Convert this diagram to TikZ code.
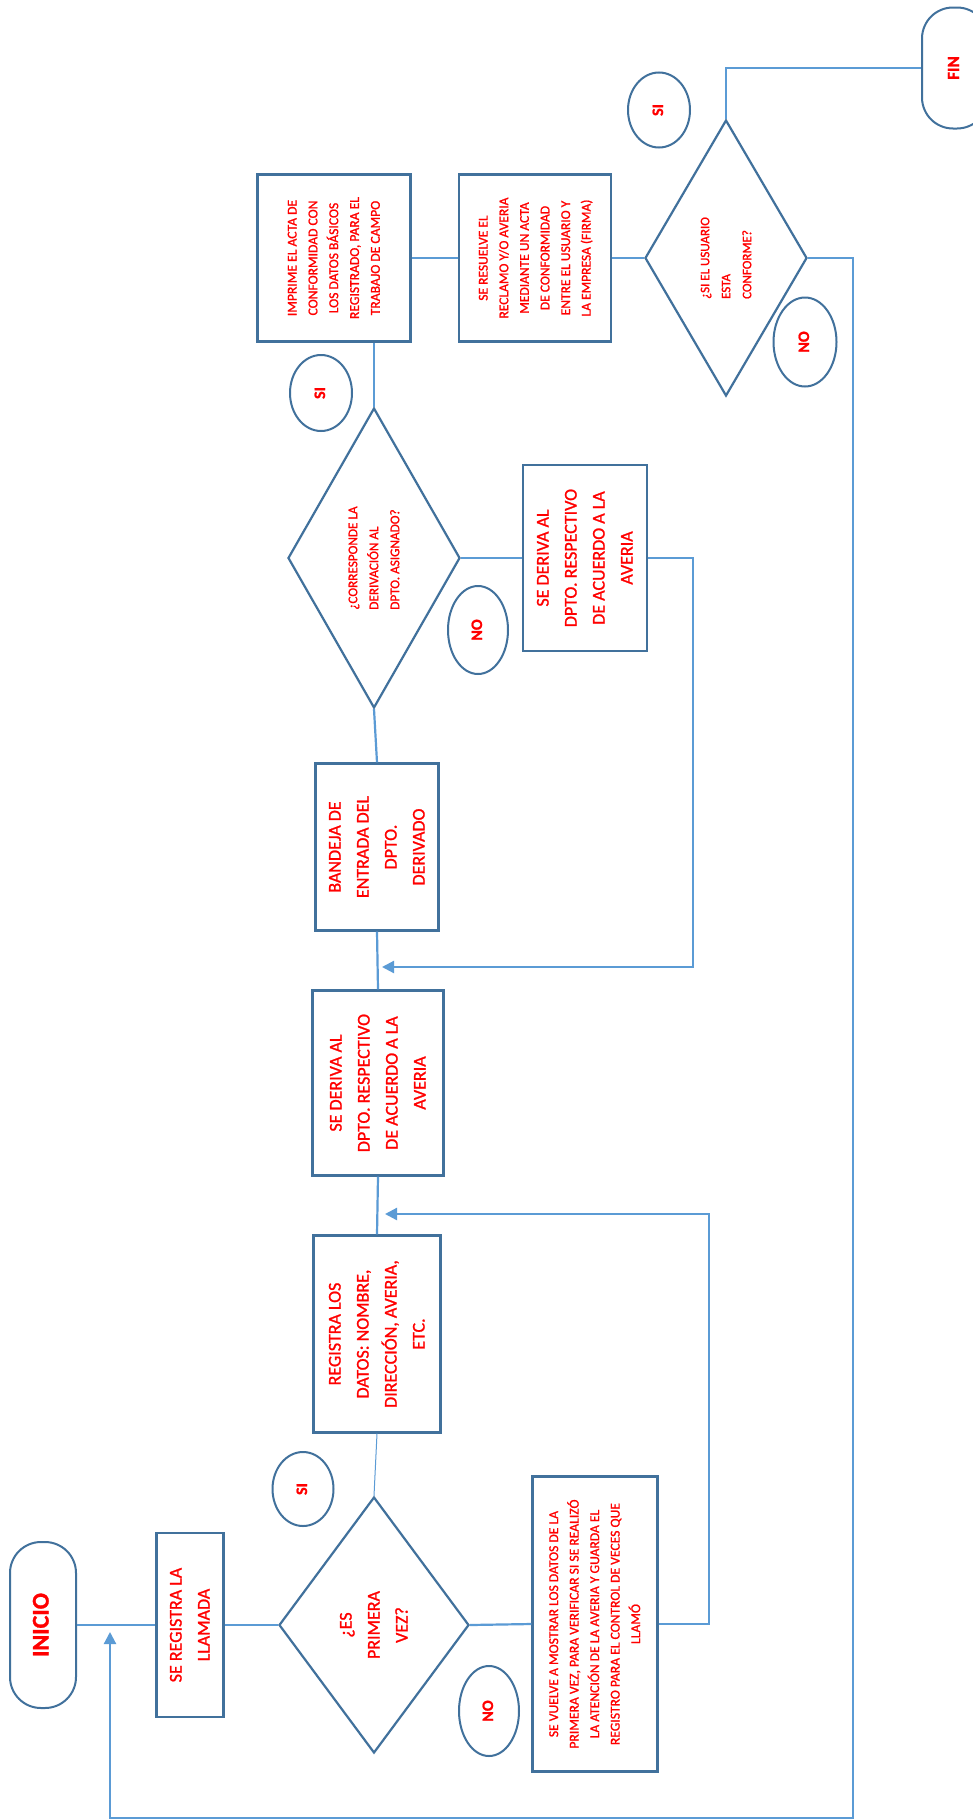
\documentclass[tikz,border=0pt]{standalone}
\usepackage{fontspec}
\setmainfont{Carlito}[RawFeature={embolden=1.2}]
\usepackage{graphicx}
\usetikzlibrary{shapes.geometric,arrows.meta}
\definecolor{boxc}{HTML}{41719C}
\definecolor{linec}{HTML}{5B9BD5}
\newcommand{\vt}[3]{\rotatebox{90}{\fontsize{#1}{#2}\selectfont\begin{tabular}{@{}c@{}}#3\end{tabular}}}
\newcommand{\vtl}[3]{\rotatebox{90}{\fontsize{#1}{#2}\selectfont\begin{tabular}{@{}l@{}}#3\end{tabular}}}
\begin{document}
\begin{tikzpicture}[x=1pt,y=-1pt,
  box/.style={draw=boxc, line width=2.2pt, fill=white, inner sep=1pt, text=red},
  dia/.style={diamond, aspect=0.6, draw=boxc, line width=2.2pt, inner sep=0pt, text=red},
  lab/.style={ellipse, draw=boxc, line width=2pt, inner sep=0pt, text=red},
  term/.style={draw=boxc, line width=2pt, rounded corners=31pt, inner sep=0pt, text=red},
  conn/.style={draw=linec, line width=2.2pt},
  arr/.style={-{Triangle[length=12pt,width=12pt]}}]
\useasboundingbox (0,0) rectangle (972,1820);
\fill[white] (0,0) rectangle (972,1820);

% first row
\node[term, minimum width=66pt, minimum height=166pt] (ini) at (43,1625) {\vt{24}{28}{\bfseries INICIO}};
\node[box, minimum width=67pt, minimum height=184pt] (reg) at (190,1625) {\vt{18}{28}{SE REGISTRA LA\\LLAMADA}};
\node[dia, minimum width=190pt, minimum height=256pt] (d1) at (374,1625) {\vt{18}{28}{¿ES\\PRIMERA\\VEZ?}};
\node[lab, minimum width=61pt, minimum height=74pt] (si1) at (303,1489) {\vt{16}{20}{\bfseries SI}};
\node[lab, minimum width=60pt, minimum height=90pt] (no1) at (489,1711) {\vt{16}{20}{\bfseries NO}};
\node[box, minimum width=125pt, minimum height=295pt] (vuelve) at (595,1624) {\vt{13.6}{20.5}{SE VUELVE A MOSTRAR LOS DATOS DE LA\\PRIMERA VEZ, PARA VERIFICAR SI SE REALIZÓ\\LA ATENCIÓN DE LA AVERIA Y GUARDA EL\\REGISTRO PARA EL CONTROL DE VECES QUE\\LLAMÓ}};

\node[box, minimum width=127pt, minimum height=197pt] (datos) at (377,1334) {\vt{18}{28}{REGISTRA LOS\\DATOS: NOMBRE,\\DIRECCIÓN, AVERIA,\\ETC.}};
\node[box, minimum width=131pt, minimum height=185pt] (der1) at (378,1083) {\vt{18}{28}{SE DERIVA AL\\DPTO. RESPECTIVO\\DE ACUERDO A LA\\AVERIA}};
\node[box, minimum width=123pt, minimum height=167pt] (band) at (377,847) {\vt{18}{28}{BANDEJA DE\\ENTRADA DEL\\DPTO.\\DERIVADO}};

\node[dia, minimum width=172pt, minimum height=300pt] (d2) at (374,558) {\vtl{13.2}{21}{¿CORRESPONDE LA\\DERIVACIÓN AL\\DPTO. ASIGNADO?}};
\node[lab, minimum width=62pt, minimum height=76pt] (si2) at (321,393) {\vt{16}{20}{\bfseries SI}};
\node[lab, minimum width=60pt, minimum height=88pt] (no2) at (478,630) {\vt{16}{20}{\bfseries NO}};
\node[box, minimum width=124pt, minimum height=186pt] (der2) at (585,558) {\vt{18}{28}{SE DERIVA AL\\DPTO. RESPECTIVO\\DE ACUERDO A LA\\AVERIA}};

\node[box, minimum width=153pt, minimum height=167pt] (impr) at (334,258) {\vt{13.6}{20.8}{IMPRIME EL ACTA DE\\CONFORMIDAD CON\\LOS DATOS BÁSICOS\\REGISTRADO, PARA EL\\TRABAJO DE CAMPO}};
\node[box, minimum width=152pt, minimum height=167pt] (res) at (535,258) {\vt{13.5}{20.6}{SE RESUELVE EL\\RECLAMO Y/O AVERIA\\MEDIANTE UN ACTA\\DE CONFORMIDAD\\ENTRE EL USUARIO Y\\LA EMPRESA (FIRMA)}};
\node[dia, minimum width=162pt, minimum height=276pt] (d3) at (726,258) {\vtl{13}{21}{¿SI EL USUARIO\\ESTA\\CONFORME?}};
\node[lab, minimum width=63pt, minimum height=89pt] (no3) at (805,342) {\vt{16}{20}{\bfseries NO}};
\node[lab, minimum width=62pt, minimum height=75pt] (si3) at (659,110) {\vt{16}{20}{\bfseries SI}};
\node[term, minimum width=66pt, minimum height=121pt] (fin) at (955,68) {\vt{17}{20}{\bfseries FIN}};

% helper coordinates
\coordinate (k1) at (709,1214);
\coordinate (a1) at (385,1214);
\coordinate (k2) at (693,967);
\coordinate (a2) at (382,967);
\coordinate (r1) at (853,1818);
\coordinate (r2) at (110,1632);

% connectors
\draw[conn] (ini.east) -- (reg.west);
\draw[conn] (reg.east) -- (d1.west);
\draw[conn, line width=1pt] (d1.north) -- (datos.south);
\draw[conn] (datos.north) -- (der1.south);
\draw[conn] (der1.north) -- (band.south);
\draw[conn] (band.north) -- (d2.south);
\draw[conn] (d2.north) -- (d2.north |- impr.south);
\draw[conn] (impr.east) -- (res.west);
\draw[conn] (res.east) -- (d3.west);
\draw[conn] (d3.north) |- (fin.west);
\draw[conn] (d1.east) -- (vuelve.west);
\draw[conn,arr] (vuelve.east) -| (k1) -- (a1);
\draw[conn] (d2.east) -- (der2.west);
\draw[conn,arr] (der2.east) -| (k2) -- (a2);
\draw[conn,arr] (d3.east) -| (r1) -| (r2);
\end{tikzpicture}
\end{document}
